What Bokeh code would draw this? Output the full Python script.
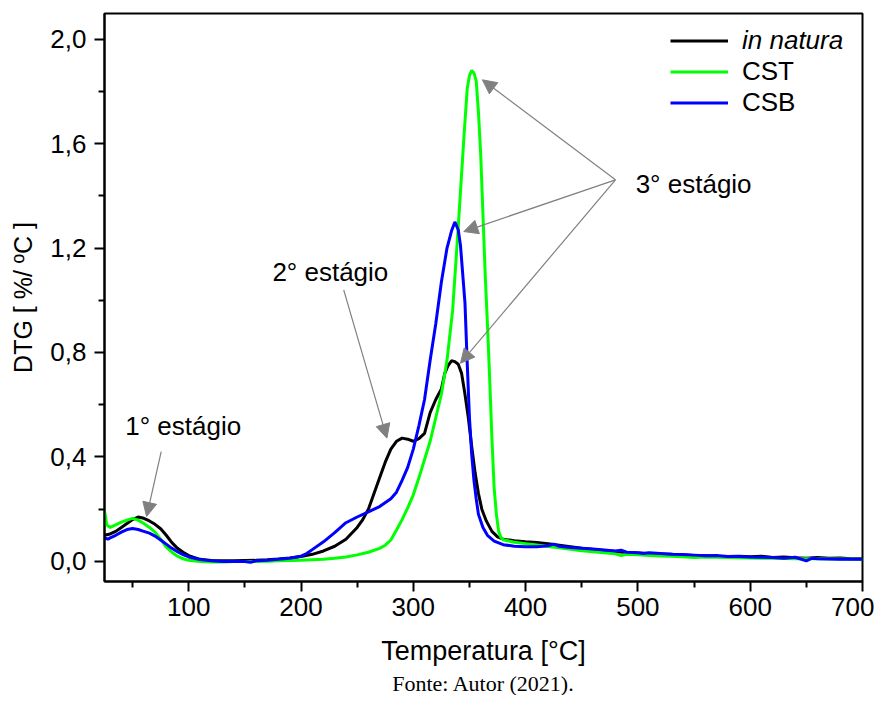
from bokeh.plotting import figure
from bokeh.models import (Range1d, FixedTicker, CustomJSTickFormatter, Legend,
                          LegendItem, Arrow, NormalHead, Label, Title)
from bokeh.embed import file_html
from bokeh.resources import INLINE

# ---------------- data ----------------
nat_x = [25, 30, 35, 40, 45, 50, 55, 60, 65, 70, 75, 80, 85, 90, 95, 100, 110, 120, 130, 140,
         150, 160, 170, 180, 190, 200, 210, 220, 230, 240, 250, 255, 260, 265, 270, 275, 280,
         285, 290, 295, 300, 305, 310, 315, 320, 325, 328, 331, 334, 337, 340, 343, 346, 349,
         352, 355, 358, 361, 365, 370, 375, 380, 390, 400, 410, 420, 430, 440, 450, 460, 470,
         480, 490, 500, 510, 520, 530, 540, 550, 560, 570, 580, 590, 600, 610, 620, 630, 640,
         650, 660, 670, 680, 690, 700]
nat_y = [0.100, 0.105, 0.115, 0.130, 0.145, 0.160, 0.170, 0.165, 0.155, 0.142, 0.125, 0.100,
         0.072, 0.050, 0.035, 0.022, 0.008, 0.003, 0.002, 0.002, 0.003, 0.004, 0.006, 0.009,
         0.013, 0.019, 0.027, 0.040, 0.058, 0.085, 0.130, 0.160, 0.200, 0.260, 0.320, 0.380,
         0.430, 0.460, 0.472, 0.468, 0.460, 0.470, 0.490, 0.570, 0.620, 0.660, 0.720, 0.750,
         0.768, 0.765, 0.755, 0.720, 0.640, 0.550, 0.440, 0.340, 0.260, 0.200, 0.155, 0.115,
         0.094, 0.085, 0.079, 0.075, 0.072, 0.068, 0.062, 0.056, 0.050, 0.046, 0.042, 0.038,
         0.034, 0.032, 0.030, 0.028, 0.027, 0.024, 0.023, 0.022, 0.020, 0.019, 0.020, 0.018,
         0.020, 0.015, 0.017, 0.014, 0.012, 0.015, 0.012, 0.013, 0.010, 0.010]

cst_x = [25, 27, 30, 35, 40, 45, 50, 55, 60, 65, 70, 75, 80, 85, 90, 95, 100, 110, 120, 130,
         140, 150, 160, 170, 180, 190, 200, 210, 220, 230, 240, 250, 260, 270, 275, 280, 285,
         290, 295, 300, 305, 310, 315, 320, 325, 330, 335, 340, 345, 348, 350, 352, 354, 356,
         358, 360, 362, 364, 366, 368, 370, 372, 374, 376, 378, 380, 385, 390, 400, 410, 420,
         430, 440, 450, 460, 470, 480, 485, 490, 500, 510, 520, 530, 540, 550, 560, 570, 580,
         590, 600, 620, 640, 660, 680, 700]
cst_y = [0.195, 0.140, 0.130, 0.140, 0.150, 0.158, 0.165, 0.158, 0.145, 0.130, 0.112, 0.085,
         0.055, 0.035, 0.020, 0.010, 0.004, 0.000, -0.002, -0.002, 0.000, 0.000, 0.000, 0.001,
         0.002, 0.003, 0.004, 0.006, 0.008, 0.012, 0.017, 0.025, 0.035, 0.050, 0.062, 0.082,
         0.120, 0.160, 0.205, 0.255, 0.320, 0.390, 0.460, 0.550, 0.640, 0.770, 0.960, 1.280,
         1.620, 1.810, 1.860, 1.880, 1.870, 1.840, 1.720, 1.560, 1.330, 1.100, 0.910, 0.700,
         0.470, 0.280, 0.180, 0.115, 0.092, 0.083, 0.078, 0.073, 0.068, 0.063, 0.057, 0.052,
         0.046, 0.041, 0.037, 0.033, 0.029, 0.022, 0.027, 0.025, 0.023, 0.021, 0.020, 0.018,
         0.015, 0.017, 0.016, 0.015, 0.014, 0.013, 0.012, 0.010, 0.010, 0.009, 0.008]

csb_x = [25, 28, 30, 35, 40, 45, 50, 55, 60, 65, 70, 75, 80, 85, 90, 95, 100, 110, 120, 130,
         140, 150, 155, 160, 170, 180, 190, 200, 205, 210, 220, 230, 240, 250, 260, 270, 280,
         285, 290, 295, 300, 305, 310, 315, 320, 325, 330, 334, 337, 340, 342, 344, 346, 348,
         350, 352, 354, 356, 358, 362, 366, 372, 380, 390, 400, 410, 420, 425, 430, 440, 450,
         460, 470, 480, 485, 490, 500, 505, 510, 520, 530, 540, 550, 560, 570, 580, 590, 600,
         610, 620, 630, 640, 650, 655, 660, 670, 680, 690, 700]
csb_y = [0.090, 0.085, 0.090, 0.100, 0.112, 0.122, 0.126, 0.122, 0.115, 0.108, 0.097, 0.082,
         0.066, 0.050, 0.037, 0.026, 0.017, 0.007, 0.002, 0.000, 0.000, 0.000, -0.003, 0.002,
         0.004, 0.008, 0.012, 0.020, 0.030, 0.045, 0.075, 0.110, 0.148, 0.170, 0.190, 0.210,
         0.240, 0.265, 0.310, 0.360, 0.430, 0.520, 0.620, 0.770, 0.910, 1.070, 1.200, 1.265,
         1.300, 1.270, 1.210, 1.100, 0.990, 0.760, 0.550, 0.410, 0.310, 0.240, 0.180, 0.130,
         0.100, 0.078, 0.064, 0.058, 0.056, 0.056, 0.060, 0.066, 0.058, 0.053, 0.050, 0.047,
         0.044, 0.040, 0.043, 0.035, 0.033, 0.030, 0.033, 0.030, 0.027, 0.026, 0.024, 0.022,
         0.023, 0.019, 0.019, 0.017, 0.016, 0.015, 0.012, 0.016, 0.002, 0.012, 0.010, 0.009,
         0.008, 0.008, 0.008]

x_ticks = [100, 200, 300, 400, 500, 600, 700]
x_minor = [50, 150, 250, 350, 450, 550, 650]
y_ticks = [0.0, 0.4, 0.8, 1.2, 1.6, 2.0]
y_minor = [0.2, 0.6, 1.0, 1.4, 1.8]

series_labels = ["in natura", "CST", "CSB"]
series_colors = ["#000000", "#00ff00", "#0000ff"]

# stage annotations: (text, text x, text y, [(arrow start x, y, end x, y), ...])
stages = [
    ("1° estágio", 43.5, 0.517, [(75.5, 0.42, 62.5, 0.172)]),
    ("2° estágio", 174.5, 1.11, [(238.0, 1.04, 276.5, 0.472)]),
    ("3° estágio", 498.0, 1.447, [(480.0, 1.461, 361.5, 1.844),
                                  (480.0, 1.461, 345.0, 1.263),
                                  (480.0, 1.461, 342.0, 0.759)]),
]

SANS = "Liberation Sans"
FS = "26px"

p = figure(frame_width=758, frame_height=568, x_range=Range1d(25, 700),
           y_range=Range1d(-0.077, 2.098), output_backend="svg", toolbar_location=None,
           min_border_left=104, min_border_top=13, min_border_right=12, min_border_bottom=40,
           background_fill_color="white", border_fill_color="white")
p.xgrid.visible = False
p.ygrid.visible = False
p.outline_line_color = "black"
p.outline_line_width = 2

rends = []
for xs, ys, col in [(nat_x, nat_y, series_colors[0]), (cst_x, cst_y, series_colors[1]),
                    (csb_x, csb_y, series_colors[2])]:
    rends.append(p.line(xs, ys, line_color=col, line_width=3))

p.xaxis.ticker = FixedTicker(ticks=x_ticks, minor_ticks=x_minor)
p.yaxis.ticker = FixedTicker(ticks=y_ticks, minor_ticks=y_minor)
p.yaxis.formatter = CustomJSTickFormatter(code="return tick.toFixed(1).replace('.', ',');")
p.xaxis.axis_label = "Temperatura [°C]"
p.yaxis.axis_label = "DTG [ %/ ºC ]"

for ax in (p.xaxis[0], p.yaxis[0]):
    ax.axis_line_width = 2
    ax.major_tick_line_width = 2
    ax.minor_tick_line_width = 2
    ax.major_tick_in = 0
    ax.major_tick_out = 10
    ax.minor_tick_in = 0
    ax.minor_tick_out = 6
    ax.major_label_text_font = SANS
    ax.major_label_text_font_size = FS
    ax.major_label_text_color = "black"
    ax.axis_label_text_font = SANS
    ax.axis_label_text_font_size = FS
    ax.axis_label_text_font_style = "normal"
    ax.axis_label_text_color = "black"
p.xaxis.major_label_standoff = 6
p.xaxis.axis_label_standoff = 17
p.xaxis.axis_label_text_font_size = "27px"
p.yaxis.major_label_standoff = 8
p.yaxis.axis_label_standoff = 10
p.yaxis.axis_label_text_font_size = "25px"

for txt, tx, ty, arrows in stages:
    p.add_layout(Label(x=tx, y=ty, text=txt, text_font=SANS, text_font_size=FS,
                       text_baseline="middle", text_align="left", text_color="black"))
    for (x0, y0, x1, y1) in arrows:
        p.add_layout(Arrow(x_start=x0, y_start=y0, x_end=x1, y_end=y1,
                           line_color="#808080", line_width=1.2,
                           end=NormalHead(size=14, fill_color="#808080",
                                          line_color="#808080")))

leg1 = Legend(items=[LegendItem(label=series_labels[0], renderers=[rends[0]])],
              location=(566, 525), label_text_font_style="italic")
leg2 = Legend(items=[LegendItem(label=series_labels[1], renderers=[rends[1]]),
                     LegendItem(label=series_labels[2], renderers=[rends[2]])],
              location=(566, 463))
for lg in (leg1, leg2):
    lg.border_line_color = None
    lg.background_fill_alpha = 0
    lg.padding = 0
    lg.margin = 0
    lg.spacing = 0
    lg.glyph_width = 58
    lg.glyph_height = 31
    lg.label_height = 31
    lg.label_standoff = 14
    lg.label_text_font = SANS
    lg.label_text_font_size = FS
    lg.label_text_color = "black"
    p.add_layout(lg, "center")

p.add_layout(Title(text="Fonte: Autor (2021).", align="center", offset=7, standoff=0,
                   text_font="Liberation Serif", text_font_size="22px",
                   text_font_style="normal", text_color="black"), "below")

open("out.html", "w").write(file_html(p, INLINE))
